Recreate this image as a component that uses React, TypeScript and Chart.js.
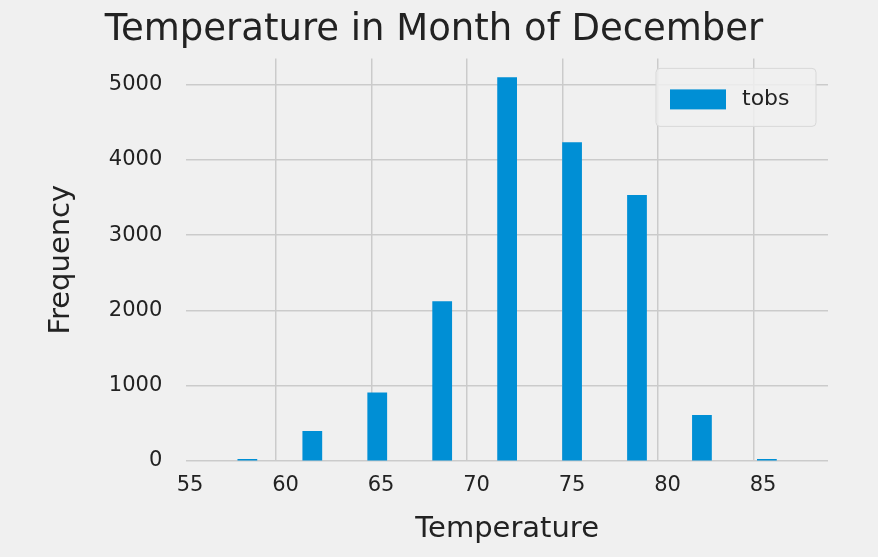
import { useEffect, useRef } from 'react';
import { Chart, registerables } from 'chart.js';

Chart.register(...registerables);

// histogram of December temperatures, 9 bins
const binEdges = [56.3, 59.7, 63.1, 66.5, 69.9, 73.3, 76.7, 80.1, 83.5, 86.9];
const binCounts = [22, 395, 905, 2120, 5095, 4230, 3530, 608, 22];
const yTicks = [0, 1000, 2000, 3000, 4000, 5000];

const font = 'DejaVu Sans';
const blue = '#008fd5';

const legendPlugin = {
    id: 'insideLegend',
    afterDraw(chart: Chart) {
        const { ctx, chartArea } = chart;
        const w = 160;
        const h = 58;
        const x = chartArea.right - w - 12;
        const y = chartArea.top + 10;
        ctx.save();
        ctx.fillStyle = 'rgba(240,240,240,0.85)';
        ctx.strokeStyle = '#d8d8d8';
        ctx.lineWidth = 1;
        ctx.beginPath();
        ctx.roundRect(x, y, w, h, 4);
        ctx.fill();
        ctx.stroke();
        ctx.fillStyle = blue;
        ctx.fillRect(x + 14, y + 21, 56, 20);
        ctx.fillStyle = '#222';
        ctx.font = `22px ${font}`;
        ctx.textBaseline = 'middle';
        ctx.fillText('tobs', x + 86, y + 31);
        ctx.restore();
    },
};

const bgPlugin = {
    id: 'bg',
    beforeDraw(chart: Chart) {
        const { ctx, width, height } = chart;
        ctx.save();
        ctx.fillStyle = '#f0f0f0';
        ctx.fillRect(0, 0, width, height);
        ctx.restore();
    },
};

export default function App() {
    const canvasRef = useRef<HTMLCanvasElement | null>(null);

    useEffect(() => {
        document.body.style.margin = '0';
        if (!canvasRef.current) return;
        const points = binCounts.map((c, i) => ({ x: (binEdges[i] + binEdges[i + 1]) / 2, y: c }));
        const chart = new Chart(canvasRef.current, {
            type: 'bar',
            data: {
                datasets: [
                    {
                        label: 'tobs',
                        data: points,
                        backgroundColor: blue,
                        borderWidth: 0,
                        barPercentage: 1,
                        categoryPercentage: 1,
                    },
                ],
            },
            options: {
                animation: false,
                responsive: false,
                layout: { padding: { left: 40, right: 50, top: 0, bottom: 6 } },
                plugins: {
                    legend: { display: false },
                    tooltip: { enabled: false },
                    title: {
                        display: true,
                        text: 'Temperature in Month of December',
                        color: '#222',
                        font: { family: font, size: 37, weight: 'normal' },
                        padding: { top: 8, bottom: 6 },
                    },
                },
                scales: {
                    x: {
                        type: 'linear',
                        min: 54.8,
                        max: 88.4,
                        offset: false,
                        afterBuildTicks: (axis) => {
                            const t = [];
                            for (let v = 55; v <= 88; v++) t.push({ value: v });
                            axis.ticks = t;
                        },
                        grid: {
                            color: (c) => (c.tick && c.tick.value % 5 === 0 ? '#cbcbcb' : 'transparent'),
                            lineWidth: 1.5,
                            drawTicks: false,
                        },
                        border: { display: false },
                        ticks: {
                            autoSkip: false,
                            maxRotation: 0,
                            color: '#222',
                            font: { family: font, size: 21 },
                            padding: 12,
                            callback: (v) => (Number(v) % 5 === 0 ? String(v) : ''),
                        },
                        title: {
                            display: true,
                            text: 'Temperature',
                            color: '#222',
                            font: { family: font, size: 29 },
                            padding: { top: 2 },
                        },
                    },
                    y: {
                        min: 0,
                        max: 5350,
                        afterBuildTicks: (axis) => {
                            axis.ticks = yTicks.map((v) => ({ value: v }));
                        },
                        grid: { color: '#cbcbcb', lineWidth: 1.5, drawTicks: false },
                        border: { display: false },
                        ticks: {
                            color: '#222',
                            font: { family: font, size: 21 },
                            padding: 24,
                            callback: (v) => String(v),
                        },
                        title: {
                            display: true,
                            text: 'Frequency',
                            color: '#222',
                            font: { family: font, size: 29 },
                            padding: { bottom: 6 },
                        },
                    },
                },
            },
            plugins: [bgPlugin, legendPlugin],
        });
        return () => chart.destroy();
    }, []);

    return <canvas ref={canvasRef} width={878} height={557} style={{ display: 'block' }} />;
}
